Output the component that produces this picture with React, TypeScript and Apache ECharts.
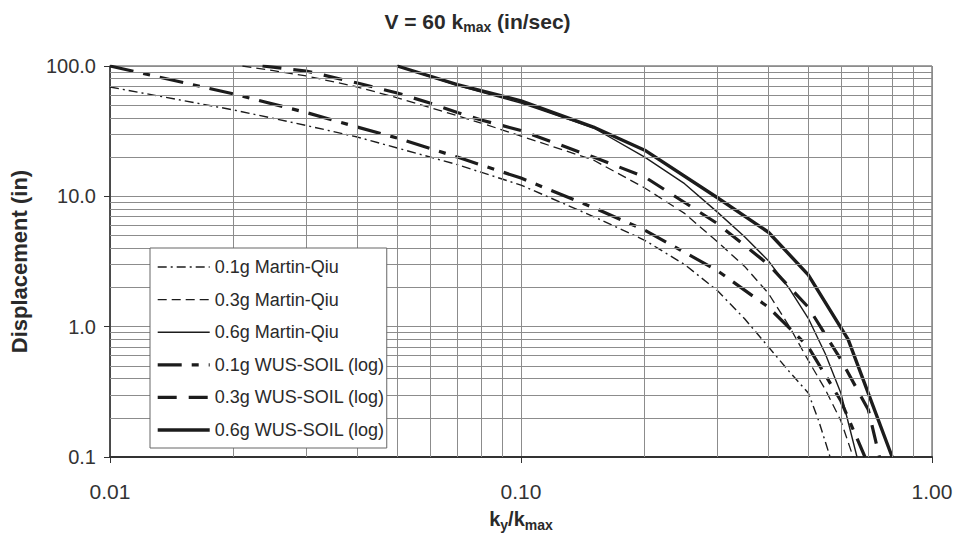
import React, { useEffect, useRef } from "react";
import * as echarts from "echarts";

// ---- data (ky/kmax, displacement in inches) ----
const mq01X = [0.01, 0.02, 0.03, 0.04, 0.05, 0.07, 0.1, 0.15, 0.2, 0.25, 0.3, 0.35, 0.4, 0.45, 0.5, 0.53, 0.565];
const mq01Y = [69, 46, 35, 28.5, 23.5, 17.5, 12.2, 7.0, 4.6, 3.0, 1.9, 1.15, 0.7, 0.45, 0.31, 0.19, 0.1];

const mq03X = [0.021, 0.025, 0.03, 0.04, 0.05, 0.06, 0.07, 0.08, 0.1, 0.15, 0.2, 0.25, 0.3, 0.35, 0.4, 0.45, 0.5, 0.55, 0.6, 0.643];
const mq03Y = [100, 92, 84, 69, 57, 48, 41.5, 36.5, 29, 19, 11.6, 7.4, 4.5, 2.9, 1.8, 1.0, 0.55, 0.33, 0.19, 0.1];

const mq06X = [0.05, 0.06, 0.07, 0.08, 0.1, 0.15, 0.2, 0.25, 0.3, 0.35, 0.4, 0.45, 0.5, 0.55, 0.6, 0.657];
const mq06Y = [100, 83, 71, 63, 52, 33.6, 20, 12.5, 7.6, 4.9, 3.2, 1.95, 1.16, 0.62, 0.31, 0.1];

const wus01X = [0.01, 0.02, 0.03, 0.04, 0.05, 0.07, 0.1, 0.15, 0.2, 0.3, 0.4, 0.5, 0.6, 0.687];
const wus01Y = [100, 61, 44, 34, 28, 20, 13.8, 8.2, 5.5, 2.7, 1.41, 0.7, 0.27, 0.1];

const wus03X = [0.0235, 0.03, 0.04, 0.05, 0.06, 0.07, 0.08, 0.1, 0.15, 0.2, 0.3, 0.4, 0.5, 0.6, 0.7, 0.745];
const wus03Y = [100, 91.5, 74, 62, 52, 44, 38.5, 32, 20, 14.1, 6.2, 3.0, 1.41, 0.56, 0.23, 0.1];

const wus06X = [0.05, 0.07, 0.1, 0.15, 0.2, 0.3, 0.4, 0.5, 0.625, 0.8];
const wus06Y = [100, 72, 54, 34, 22.6, 9.8, 5.3, 2.5, 0.8, 0.1];

const seriesNames = [
  "0.1g Martin-Qiu",
  "0.3g Martin-Qiu",
  "0.6g Martin-Qiu",
  "0.1g WUS-SOIL (log)",
  "0.3g WUS-SOIL (log)",
  "0.6g WUS-SOIL (log)",
];

const xMinorGrid = [0.02, 0.03, 0.04, 0.05, 0.06, 0.07, 0.08, 0.09, 0.2, 0.3, 0.4, 0.5, 0.6, 0.7, 0.8, 0.9];
const yMinorGrid = [
  0.2, 0.3, 0.4, 0.5, 0.6, 0.7, 0.8, 0.9,
  2, 3, 4, 5, 6, 7, 8, 9,
  20, 30, 40, 50, 60, 70, 80, 90,
];

const FONT = "'Liberation Sans', Arial, sans-serif";
const INK = "#1c1c1c";
const GRID = "#8c8c8c";

function pairs(xs: number[], ys: number[]) {
  return xs.map((x, i) => [x, ys[i]]);
}

export default function App() {
  const ref = useRef<HTMLDivElement>(null);

  useEffect(() => {
    document.body.style.margin = "0";
    if (!ref.current) return;
    const chart = echarts.init(ref.current, null, { renderer: "svg" });

    const lineSeries = (name: string, xs: number[], ys: number[], width: number, type: any) => ({
      name,
      type: "line",
      data: pairs(xs, ys),
      symbol: "none",
      smooth: false,
      clip: true,
      z: 3,
      lineStyle: { color: INK, width, type, cap: "butt", join: "round" },
      itemStyle: { color: INK },
    });

    const option: any = {
      animation: false,
      backgroundColor: "#ffffff",
      textStyle: { fontFamily: FONT },
      title: {
        text: "V = 60 k{sub|max} (in/sec)",
        left: "center",
        top: 8,
        padding: 0,
        textStyle: {
          fontFamily: FONT,
          fontSize: 21,
          fontWeight: "bold",
          color: "#2a2a2a",
          lineHeight: 26,
          rich: {
            sub: { fontSize: 14, fontWeight: "bold", lineHeight: 26, padding: [12, 0, 0, 0], verticalAlign: "top" },
          },
        },
      },
      grid: {
        left: 110,
        right: 23,
        top: 66,
        bottom: 81,
        containLabel: false,
        outerBoundsMode: "none",
        show: true,
        borderColor: "#444",
        borderWidth: 1,
        backgroundColor: "transparent",
      },
      legend: {
        data: seriesNames,
        orient: "vertical",
        left: 150,
        top: 248,
        padding: [10, 2, 9, 6],
        itemWidth: 52,
        itemHeight: 18,
        itemGap: 14.6,
        backgroundColor: "#ffffff",
        borderColor: "#666",
        borderWidth: 1,
        borderRadius: 0,
        z: 10,
        itemStyle: { opacity: 0 },
        lineStyle: { width: "inherit" },
        textStyle: { fontFamily: FONT, fontSize: 18, color: "#2a2a2a", lineHeight: 18 },
      },
      xAxis: {
        type: "log",
        logBase: 10,
        min: 0.01,
        max: 1,
        name: "k{sub|y}/k{sub|max}",
        nameLocation: "middle",
        nameGap: 43,
        nameTextStyle: {
          fontFamily: FONT,
          fontSize: 20,
          fontWeight: "bold",
          color: "#2a2a2a",
          lineHeight: 24,
          rich: {
            sub: { fontSize: 14, fontWeight: "bold", lineHeight: 24, padding: [11, 0, 0, 0], verticalAlign: "top" },
          },
        },
        axisLine: { show: true, lineStyle: { color: "#333", width: 2 } },
        axisTick: { show: true, length: 6, inside: false, lineStyle: { color: "#333" } },
        axisLabel: {
          margin: 24,
          fontFamily: FONT,
          fontSize: 21,
          color: "#333",
          formatter: (v: number) => Number(v).toFixed(2),
        },
        splitLine: { show: true, lineStyle: { color: GRID, width: 1 } },
      },
      yAxis: {
        type: "log",
        logBase: 10,
        min: 0.1,
        max: 100,
        name: "Displacement (in)",
        nameLocation: "middle",
        nameRotate: 90,
        nameGap: 80,
        nameTextStyle: { fontFamily: FONT, fontSize: 22, fontWeight: "bold", color: "#2a2a2a" },
        axisLine: { show: true, lineStyle: { color: "#333", width: 1.5 } },
        axisTick: { show: true, length: 6, inside: false, lineStyle: { color: "#333" } },
        axisLabel: {
          margin: 14,
          fontFamily: FONT,
          fontSize: 20,
          color: "#333",
          formatter: (v: number) => Number(v).toFixed(1),
        },
        splitLine: { show: true, lineStyle: { color: GRID, width: 1 } },
      },
      series: [
        {
          name: "_grid",
          type: "line",
          data: [[0.01, 0.1]],
          symbol: "none",
          silent: true,
          z: 1,
          lineStyle: { opacity: 0 },
          markLine: {
            silent: true,
            symbol: ["none", "none"],
            label: { show: false },
            animation: false,
            lineStyle: { color: GRID, width: 1, type: "solid" },
            emphasis: { disabled: true },
            data: [
              ...xMinorGrid.map((v) => ({ xAxis: v })),
              ...yMinorGrid.map((v) => ({ yAxis: v })),
            ],
          },
        },
        lineSeries(seriesNames[0], mq01X, mq01Y, 1.4, [9, 4, 2, 4]),
        lineSeries(seriesNames[1], mq03X, mq03Y, 1.3, [9, 5]),
        lineSeries(seriesNames[2], mq06X, mq06Y, 1.4, "solid"),
        lineSeries(seriesNames[3], wus01X, wus01Y, 3.2, [24, 10, 7, 10]),
        lineSeries(seriesNames[4], wus03X, wus03Y, 3.2, [19, 12]),
        lineSeries(seriesNames[5], wus06X, wus06Y, 3.4, "solid"),
      ],
    };

    chart.setOption(option);
    return () => chart.dispose();
  }, []);

  return <div ref={ref} style={{ width: 955, height: 538 }} />;
}
